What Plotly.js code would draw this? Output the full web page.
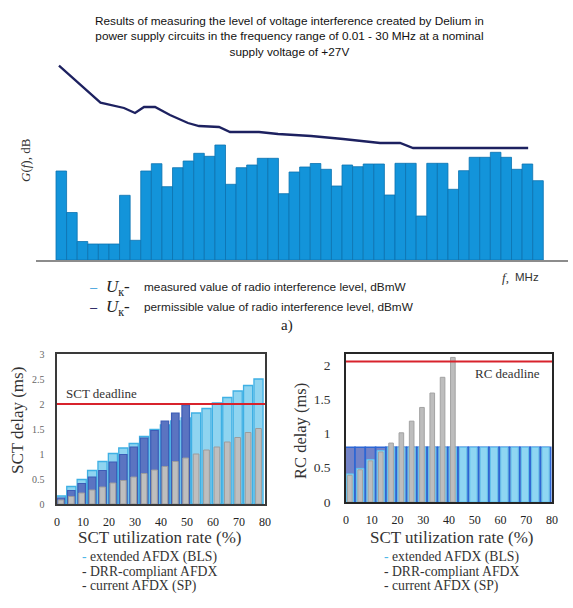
<!DOCTYPE html>
<html>
<head>
<meta charset="utf-8">
<script src="https://cdn.plot.ly/plotly-3.0.1.min.js"></script>
<style>html,body{margin:0;padding:0;background:#fff;}#chart{width:573px;height:608px;}</style>
</head>
<body>
<div id="chart"></div>
<script>
// ---------- DATA ----------
// (a) measured interference level per frequency band (relative dB)
var bands = [1,2,3,4,5,6,7,8,9,10,11,12,13,14,15,16,17,18,19,20,21,22,23,24,25,26,27,28,29,30,31,32,33,34,35,36,37,38,39,40,41,42,43,44,45,46];
var measuredLevel = [89, 47.5, 18.5, 16, 16, 16, 64.7, 19.7, 89, 96.3,
                     73.3, 92.3, 99, 106.7, 103.7, 115, 75.7, 92.3, 95, 101.7,
                     101.7, 66.3, 88, 93, 96.5, 90.7, 74, 95, 93.3, 96,
                     96, 65, 96.7, 96.7, 44, 96.7, 96.7, 70.7, 89.3, 102.7,
                     102.7, 107.7, 102.7, 90.7, 96, 79.3];
// permissible level curve (band position, relative dB)
var permBand  = [0.78, 4.70, 6.92, 7.96, 8.81, 9.85, 11.26, 12.96, 14.00, 15.89, 16.93, 19.67, 21.46, 24.58, 27.60, 31.09, 32.98, 34.21, 45.07];
var permLevel = [194.3, 157.3, 152, 147, 153, 153, 145, 137, 134, 133, 128, 128, 126, 124, 121, 117, 117, 112, 112];

// (b) SCT utilization groups
var utilization = [1.5, 5.5, 9.5, 13.5, 17.5, 21.5, 25.5, 29.5, 33.5, 37.5, 41.5, 45.5, 49.5, 53.5, 57.5, 61.5, 65.5, 69.5, 73.5, 77.5];
var utilizationDRR = [1.5, 5.5, 9.5, 13.5, 17.5, 21.5, 25.5, 29.5, 33.5, 37.5, 41.5, 45.5, 49.5];
var utilizationRC_SP = [1.5, 5.5, 9.5, 13.5, 17.5, 21.5, 25.5, 29.5, 33.5, 37.5, 41.5];
var sctBLS = [0.16, 0.35, 0.49, 0.67, 0.85, 1.01, 1.12, 1.21, 1.35, 1.49, 1.58, 1.66, 1.72, 1.82, 1.91, 2.02, 2.13, 2.26, 2.37, 2.50];
var sctDRR = [0.12, 0.27, 0.41, 0.54, 0.67, 0.84, 0.99, 1.14, 1.32, 1.47, 1.66, 1.82, 1.98];
var sctSP  = [0.08, 0.15, 0.22, 0.28, 0.34, 0.42, 0.47, 0.54, 0.61, 0.68, 0.75, 0.85, 0.92, 1.00, 1.08, 1.14, 1.24, 1.33, 1.43, 1.51];
var rcBLS  = [0.41, 0.49, 0.62, 0.75, 0.80, 0.80, 0.80, 0.80, 0.80, 0.80, 0.80, 0.80, 0.80, 0.80, 0.80, 0.80, 0.80, 0.80, 0.80, 0.80];
var rcDRR  = [0.80, 0.80, 0.80, 0.80, 0.80, 0.80, 0.80, 0.80, 0.80, 0.80, 0.80, 0.80, 0.80, 0.80, 0.80, 0.80, 0.80, 0.80, 0.80, 0.80];
var rcSP   = [0.39, 0.47, 0.60, 0.73, 0.86, 1.01, 1.18, 1.38, 1.59, 1.82, 2.11];
var sctDeadline = 2.0;
var rcDeadline = 2.05;
var xTicks = [0, 10, 20, 30, 40, 50, 60, 70, 80];
var sctYTicks = [0, 0.5, 1, 1.5, 2, 2.5, 3];
var rcYTicks = [0, 0.5, 1, 1.5, 2];

// ---------- LAYOUT HELPERS ----------
var W = 573, H = 608;
function px(x){ return x / W; }
function py(y){ return 1 - y / H; }
var SERIF = 'Liberation Serif, Times New Roman, serif';
var SANS = 'Liberation Sans, Arial, sans-serif';

var traces = [
  {type:'bar', x:bands, y:measuredLevel, width:1, xaxis:'x', yaxis:'y',
   marker:{color:'#1394da', line:{color:'#0b72b0', width:0.8}}, hoverinfo:'skip'},
  {type:'scatter', mode:'lines', x:permBand, y:permLevel, xaxis:'x', yaxis:'y',
   line:{color:'#1d2160', width:2.3}, hoverinfo:'skip'},
  // SCT chart
  {type:'bar', x:utilization, y:sctBLS, width:3.5, xaxis:'x2', yaxis:'y2',
   marker:{color:'#8fd4f0', line:{color:'#3fb0e4', width:1.3}}},
  {type:'bar', x:utilizationDRR, y:sctDRR, width:2.9, xaxis:'x2', yaxis:'y2',
   marker:{color:'#5b74c1', line:{color:'#3c5cb6', width:1.2}}},
  {type:'bar', x:utilization, y:sctSP, width:2.2, xaxis:'x2', yaxis:'y2',
   marker:{color:'#bebebe', line:{color:'#9c9c9c', width:1}}},
  // RC chart
  {type:'bar', x:utilization, y:rcDRR, width:4.0, xaxis:'x3', yaxis:'y3',
   marker:{color:'#7383c7', line:{color:'#2d66d4', width:1.6}}},
  {type:'bar', x:utilization, y:rcBLS, width:2.8, xaxis:'x3', yaxis:'y3',
   marker:{color:'#8fd6f2', line:{color:'#62c2ec', width:1}}},
  {type:'bar', x:utilizationRC_SP, y:rcSP, width:1.8, xaxis:'x3', yaxis:'y3',
   marker:{color:'#bdbdbd', line:{color:'#a2a2a2', width:1}}}
];

function xRange(pl, pr){ // band units mapped so bars sit at 56..543.3 px
  var step = (543.3 - 56) / 46;
  return [0.5 + (pl - 56) / step, 0.5 + (pr - 56) / step];
}

var frame = {showline:true, mirror:true, linewidth:1.6, ticks:'', showgrid:false, zeroline:false};

function ann(text, x, y, opts){
  var a = {text:text, x:px(x), y:py(y), xref:'paper', yref:'paper', showarrow:false,
           xanchor:'center', yanchor:'middle', font:{family:SERIF, size:13.7, color:'#333'}};
  for (var k in opts) a[k] = opts[k];
  return a;
}

var layout = {
  width: W, height: H,
  margin:{l:0, r:0, t:0, b:0},
  paper_bgcolor:'#fff', plot_bgcolor:'rgba(0,0,0,0)',
  showlegend:false, barmode:'overlay',
  xaxis:{domain:[px(36), px(568)], range:xRange(36, 568), anchor:'y',
         showline:true, linecolor:'#8c8c8c', linewidth:2, showticklabels:false,
         showgrid:false, zeroline:false, ticks:''},
  yaxis:{domain:[py(260), py(60)], range:[0, 200], anchor:'x', visible:false},
  xaxis2:Object.assign({}, frame, {domain:[px(57), px(265)], range:[0, 80], anchor:'y2',
         linecolor:'#3a3a3a', tickvals:xTicks,
         tickfont:{family:SERIF, size:12, color:'#222'}, ticklabelstandoff:6}),
  yaxis2:Object.assign({}, frame, {domain:[py(504), py(354)], range:[0, 3], anchor:'x2',
         linecolor:'#3a3a3a', tickvals:sctYTicks,
         tickfont:{family:SERIF, size:10, color:'#666'}, ticklabelstandoff:9}),
  xaxis3:Object.assign({}, frame, {domain:[px(346), px(552)], range:[0, 80], anchor:'y3',
         linecolor:'#262626', linewidth:1.8, tickvals:xTicks,
         tickfont:{family:SERIF, size:12, color:'#222'}, ticklabelstandoff:6}),
  yaxis3:Object.assign({}, frame, {domain:[py(502), py(354)], range:[0, 2.16], anchor:'x3',
         linecolor:'#262626', linewidth:1.8, tickvals:rcYTicks,
         tickfont:{family:SERIF, size:13.5, color:'#333'}, ticklabelstandoff:11}),
  shapes:[
    {type:'line', xref:'x2', yref:'y2', x0:0, x1:80, y0:sctDeadline, y1:sctDeadline,
     line:{color:'#d8232c', width:2}},
    {type:'line', xref:'x3', yref:'y3', x0:0, x1:80, y0:rcDeadline, y1:rcDeadline,
     line:{color:'#d8232c', width:2}}
  ],
  annotations:[
    ann('Results of measuring the level of voltage interference created by Delium in<br>power supply circuits in the frequency range of 0.01 - 30 MHz at a nominal<br>supply voltage of +27V',
        289, 37, {font:{family:SANS, size:11.8, color:'#111'}}),
    ann('<i>G</i>(<i>f</i>), dB', 26, 160, {textangle:-90, font:{family:SERIF, size:13, color:'#333'}}),
    ann('<i>f</i>,', 500, 277, {xanchor:'left', font:{family:SERIF, size:13, color:'#333'}}),
    ann('MHz', 513, 277, {xanchor:'left', font:{family:SANS, size:11.5, color:'#333'}}),
    ann('–', 94, 287, {font:{family:SANS, size:13, color:'#4ba6de'}}),
    ann('<i>U</i><sub>к</sub>-', 104, 288, {xanchor:'left', font:{family:SERIF, size:17, color:'#222'}}),
    ann('measured value of radio interference level, dBmW', 142, 287, {xanchor:'left', font:{family:SANS, size:11.8, color:'#222'}}),
    ann('–', 94, 307, {font:{family:SANS, size:13, color:'#1d2160'}}),
    ann('<i>U</i><sub>к</sub>-', 104, 308, {xanchor:'left', font:{family:SERIF, size:17, color:'#222'}}),
    ann('permissible value of radio interference level, dBmW', 142, 307, {xanchor:'left', font:{family:SANS, size:11.8, color:'#222'}}),
    ann('a)', 287, 325, {font:{family:SERIF, size:15, color:'#222'}}),
    // SCT chart
    ann('SCT deadline', 64, 393, {xanchor:'left', font:{family:SERIF, size:13, color:'#333'}}),
    ann('SCT delay (ms)', 17, 421, {textangle:-90, font:{family:SERIF, size:17, color:'#333'}}),
    ann('SCT utilization rate (%)', 160, 537, {font:{family:SERIF, size:17, color:'#333'}}),
    ann('<span style="color:#4fb8e8">-</span> extended AFDX (BLS)', 80, 557, {xanchor:'left'}),
    ann('- DRR-compliant AFDX', 80, 571.5, {xanchor:'left'}),
    ann('- current AFDX (SP)', 80, 586, {xanchor:'left'}),
    // RC chart
    ann('RC deadline', 542, 373, {xanchor:'right', font:{family:SERIF, size:13, color:'#333'}}),
    ann('RC delay (ms)', 300, 431, {textangle:-90, font:{family:SERIF, size:16.5, color:'#333'}}),
    ann('SCT utilization rate (%)', 452, 537, {font:{family:SERIF, size:17, color:'#333'}}),
    ann('<span style="color:#4fb8e8">-</span> extended AFDX (BLS)', 382, 557, {xanchor:'left'}),
    ann('- DRR-compliant AFDX', 382, 571.5, {xanchor:'left'}),
    ann('- current AFDX (SP)', 382, 586, {xanchor:'left'})
  ]
};

Plotly.newPlot('chart', traces, layout, {staticPlot:true, displayModeBar:false});
</script>
</body>
</html>
